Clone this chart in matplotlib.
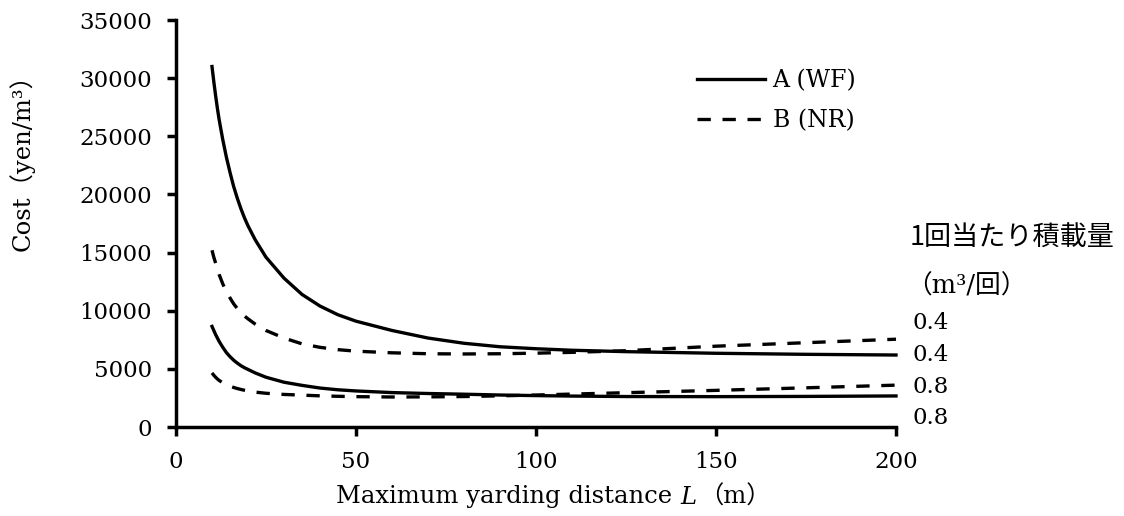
import matplotlib
matplotlib.use('Agg')
import matplotlib.pyplot as plt
import numpy as np

# maximum yarding distance L (m)
dist = [10, 10.5, 11, 11.5, 12, 13, 14, 15, 16, 17, 18, 19, 20, 22, 25, 30, 35,
        40, 45, 50, 60, 70, 80, 90, 100, 110, 125, 150, 175, 200]

# cost (yen/m3)
a_04 = [31000, 29700, 28500, 27400, 26400, 24700, 23200, 21900, 20700, 19700,
        18800, 18000, 17300, 16100, 14600, 12800, 11400, 10400, 9650, 9100,
        8300, 7650, 7200, 6900, 6730, 6600, 6480, 6340, 6250, 6190]
b_04 = [15200, 14600, 14100, 13600, 13100, 12300, 11650, 11100, 10600, 10200,
        9850, 9550, 9300, 8850, 8300, 7650, 7150, 6850, 6650, 6520, 6380,
        6300, 6280, 6300, 6350, 6420, 6560, 6950, 7250, 7550]
a_08 = [8650, 8300, 7950, 7650, 7350, 6850, 6400, 6050, 5750, 5500, 5280,
        5100, 4950, 4650, 4280, 3850, 3580, 3350, 3200, 3100, 2960, 2880,
        2820, 2750, 2700, 2660, 2620, 2610, 2630, 2670]
b_08 = [4650, 4450, 4280, 4130, 4000, 3800, 3640, 3510, 3400, 3310, 3230,
        3160, 3100, 3000, 2900, 2800, 2740, 2680, 2640, 2610, 2580, 2590,
        2620, 2680, 2750, 2830, 2950, 3150, 3370, 3600]

xticks = [0, 50, 100, 150, 200]
yticks = [0, 5000, 10000, 15000, 20000, 25000, 30000, 35000]
load_labels = ['0.4', '0.4', '0.8', '0.8']
load_y = [323, 355, 387, 418]   # pixel rows of the right-hand labels

W, H = 1124, 516
serif = ['DejaVu Serif', 'Noto Sans CJK JP']
plt.rcParams['font.family'] = serif

fig = plt.figure(figsize=(W / 100, H / 100), dpi=100)
ax = fig.add_axes([176 / W, 1 - 427 / H, 720 / W, 407 / H])

lw = 2.4
dash = (4, 3.5)
ax.plot(dist, a_04, c='k', lw=lw, clip_on=False, label='A (WF)')
ax.plot(dist, b_04, c='k', lw=lw, ls=(0, dash), clip_on=False, label='B (NR)')
ax.plot(dist, a_08, c='k', lw=lw, clip_on=False)
ax.plot(dist, b_08, c='k', lw=lw, ls=(0, dash), clip_on=False)

ax.set_xlim(0, 200)
ax.set_ylim(0, 35000)
ax.set_xticks(xticks)
ax.set_yticks(yticks)
for s in ['top', 'right']:
    ax.spines[s].set_visible(False)
for s in ['left', 'bottom']:
    ax.spines[s].set_linewidth(2.5)
ax.tick_params(axis='both', direction='out', length=6.5, width=2.5, labelsize=16.5)
ax.tick_params(axis='y', pad=11)
ax.tick_params(axis='x', pad=11)

leg = ax.legend(loc='upper left', bbox_to_anchor=(697 / W, 1 - 69 / H),
                bbox_transform=fig.transFigure, frameon=False, fontsize=17,
                handlelength=2.9, handletextpad=0.3, labelspacing=0.72,
                borderpad=0, borderaxespad=0)

# y label
fig.text(22 / W, 1 - 157 / H, 'Cost（yen/m³）', rotation=90, fontsize=17.5,
         ha='center', va='center')

# x label built from pieces (italic L)
pieces = [('Maximum yarding distance', {}), ('L', {'style': 'italic'}),
          ('（m）', {})]
gaps = [9, 2, 0]
texts = [fig.text(0, 0, s, fontsize=17.5, ha='left', va='center', **kw)
         for s, kw in pieces]
fig.canvas.draw()
r = fig.canvas.get_renderer()
widths = [t.get_window_extent(r).width for t in texts]
total = sum(widths) + sum(gaps)
x = 553 - total / 2
for t, w, g in zip(texts, widths, gaps):
    t.set_position((x / W, 1 - 497 / H))
    x += w + g

# right-hand annotations
fig.text(910 / W, 1 - 238 / H, '1回当たり積載量', fontsize=19.5,
         family=['Noto Sans CJK JP', 'DejaVu Sans'], ha='left', va='center')
fig.text(906 / W, 1 - 286 / H, '（m³/回）', fontsize=18.5, ha='left', va='center')
for lab, yp in zip(load_labels, load_y):
    fig.text(913 / W, 1 - yp / H, lab, fontsize=16.5, ha='left', va='center')

fig.savefig('out.png', dpi=100)
plt.close()
